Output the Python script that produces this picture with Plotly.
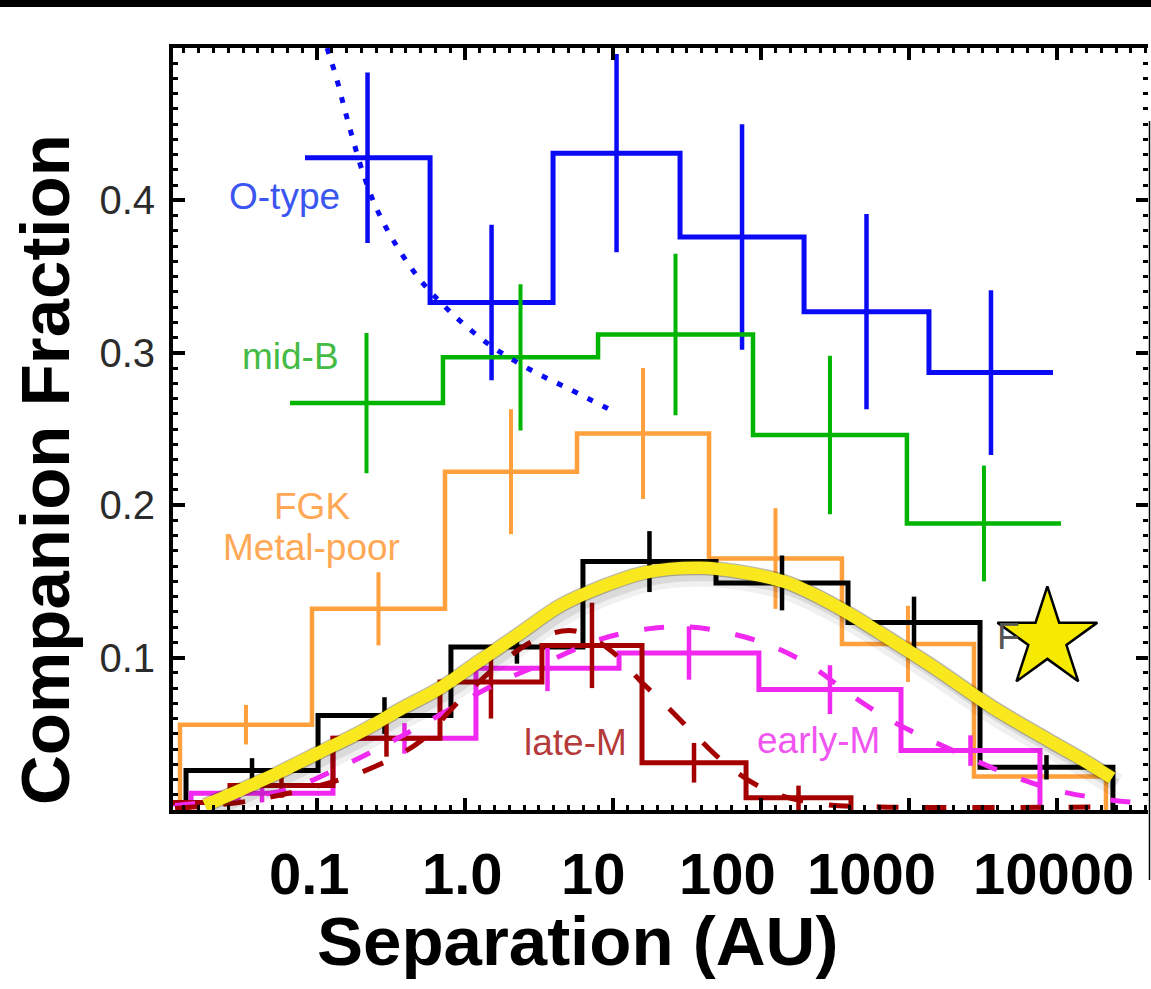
import numpy as np
import plotly.graph_objects as go

# ---------------- canvas / plot-area geometry ----------------
W, H = 1151, 989
ML, MR, MT, MB = 173, 3, 48, 179
PW, PH = W - ML - MR, H - MT - MB

X_LOG_RANGE = [-1.973, 4.615]      # log10(AU) at left / right frame
Y_RANGE = [0.0, 0.5]

# ---------------- data (separations stored as log10 AU) ----------------
# O-type stars (blue)
O_EDGES_LOG = [-1.081, -0.236, 0.595, 1.453, 2.291, 3.135, 3.973]
O_FRAC = [0.428, 0.333, 0.431, 0.376, 0.327, 0.287]
O_ERR = [0.056, 0.051, 0.065, 0.074, 0.064, 0.054]
O_FIT_LOG = [-0.932, -0.865, -0.811, -0.757, -0.696, -0.608, -0.486, -0.304,
             -0.101, 0.169, 0.439, 0.709, 1.014]
O_FIT_FRAC = [0.500, 0.479, 0.459, 0.440, 0.420, 0.397, 0.374, 0.348,
              0.327, 0.305, 0.289, 0.276, 0.261]

# mid-B stars (green)
B_EDGES_LOG = [-1.182, -0.149, 0.899, 1.946, 2.986, 4.027]
B_FRAC = [0.267, 0.297, 0.312, 0.246, 0.188]
B_ERR = [0.046, 0.048, 0.053, 0.052, 0.038]

# FGK metal-poor (orange)
FGKMP_EDGES_LOG = [-1.926, -1.034, -0.135, 0.757, 1.649, 2.547, 3.439, 4.331]
FGKMP_FRAC = [0.056, 0.132, 0.222, 0.247, 0.165, 0.109, 0.022]
FGKMP_ERR = [0.013, 0.024, 0.041, 0.043, 0.033, 0.025, 0.018]

# FGK solar-type (black)
FGK_EDGES_LOG = [-1.885, -0.993, -0.095, 0.797, 1.696, 2.588, 3.480, 4.378]
FGK_FRAC = [0.026, 0.062, 0.107, 0.163, 0.149, 0.123, 0.028]
FGK_ERR = [0.008, 0.012, 0.011, 0.020, 0.018, 0.017, 0.008]
FGK_FIT_LOG = [-1.757, -1.520, -1.250, -0.980, -0.709, -0.439, -0.169, 0.101,
               0.372, 0.642, 0.912, 1.223, 1.588, 1.872, 2.182, 2.520, 2.905,
               3.162, 3.554, 3.939, 4.155, 4.372]
FGK_FIT_FRAC = [0.003, 0.013, 0.025, 0.038, 0.051, 0.066, 0.080, 0.098,
                0.116, 0.134, 0.146, 0.156, 0.159, 0.156, 0.149, 0.133, 0.110,
                0.094, 0.068, 0.046, 0.034, 0.021]

# early-M (magenta)
EM_EDGES_LOG = [-2.818, -1.851, -0.892, 0.074, 1.041, 1.986, 2.946, 3.885]
EM_FRAC = [0.004, 0.011, 0.047, 0.093, 0.103, 0.079, 0.039]
EM_ERR = [0.0, 0.006, 0.010, 0.015, 0.0175, 0.016, 0.010]
EM_FIT_LOG = [-1.959, -1.588, -1.182, -0.845, -0.574, -0.304, -0.034, 0.236,
              0.574, 0.912, 1.250, 1.520, 1.791, 2.061, 2.331, 2.601, 2.872,
              3.142, 3.412, 3.682, 3.953, 4.223, 4.493, 4.628]
EM_FIT_FRAC = [0.003, 0.007, 0.014, 0.028, 0.041, 0.055, 0.070, 0.084,
               0.098, 0.112, 0.119, 0.120, 0.116, 0.108, 0.095, 0.076, 0.059,
               0.046, 0.034, 0.023, 0.014, 0.0085, 0.0052, 0.0046]

# late-M (dark red)
LM_EDGES_LOG = [-2.291, -1.588, -0.892, -0.169, 0.520, 1.196, 1.899, 2.608]
LM_FRAC = [0.005, 0.016, 0.047, 0.084, 0.108, 0.031, 0.008]
LM_ERR = [0.0, 0.008, 0.012, 0.024, 0.028, 0.013, 0.008]
LM_FIT_LOG = [-1.959, -1.453, -0.912, -0.574, -0.304, -0.034, 0.236, 0.507,
              0.743, 0.980, 1.182, 1.385, 1.588, 1.791, 2.061, 2.399, 2.804, 4.324]
LM_FIT_FRAC = [0.001, 0.006, 0.018, 0.030, 0.045, 0.072, 0.096, 0.113,
               0.1175, 0.105, 0.085, 0.066, 0.046, 0.028, 0.012, 0.004, 0.002, 0.002]

# decorative star marker (log10 AU, fraction)
STAR_LOG = [3.935]
STAR_FRAC = [0.1123]

X_TICK_TEXT = ["0.1", "1.0", "10", "100", "1000", "10000"]

# ---------------- styling ----------------
BLUE = "#0a0af5"
GREEN = "#00b400"
ORANGE = "#ffa03c"
BLACK = "#000000"
MAGENTA = "#f028f0"
DARKRED = "#a50000"
YELLOW = "#fae81e"
FONT = "Liberation Sans, Arial, Helvetica, sans-serif"


def px_x(px):
    return (px - ML) / PW


def px_y(py):
    return (MT + PH - py) / PH


def step_xy(edges_log, frac, closed):
    e = list(10.0 ** np.array(edges_log))
    if closed:
        x = [e[0]] + e[:-1] + [e[-1], e[-1]]
        y = [0.0] + list(frac) + [frac[-1], 0.0]
    else:
        x = e
        y = list(frac) + [frac[-1]]
    return x, y


def centers(edges_log):
    e = np.array(edges_log)
    return 10.0 ** ((e[:-1] + e[1:]) / 2.0)


fig = go.Figure()

series = [
    (FGKMP_EDGES_LOG, FGKMP_FRAC, FGKMP_ERR, ORANGE, 4.5, True),
    (O_EDGES_LOG, O_FRAC, O_ERR, BLUE, 5, False),
    (B_EDGES_LOG, B_FRAC, B_ERR, GREEN, 4.5, False),
    (FGK_EDGES_LOG, FGK_FRAC, FGK_ERR, BLACK, 5, True),
    (EM_EDGES_LOG, EM_FRAC, EM_ERR, MAGENTA, 5, True),
    (LM_EDGES_LOG, LM_FRAC, LM_ERR, DARKRED, 5, True),
]

for edges, frac, err, col, lw, closed in series:
    sx, sy = step_xy(edges, frac, closed)
    fig.add_trace(go.Scatter(x=sx, y=sy, mode="lines",
                             line=dict(color=col, width=lw, shape="hv"),
                             hoverinfo="skip"))
    fig.add_trace(go.Scatter(x=centers(edges), y=frac, mode="markers",
                             marker=dict(size=1, color=col),
                             error_y=dict(type="data", array=err, width=0,
                                          thickness=lw - 0.5, color=col),
                             hoverinfo="skip"))

# model curves
fig.add_trace(go.Scatter(x=10.0 ** np.array(O_FIT_LOG), y=O_FIT_FRAC, mode="lines",
                         line=dict(color=BLUE, width=5, dash="6px,11px",
                                   shape="spline"), hoverinfo="skip"))
fig.add_trace(go.Scatter(x=10.0 ** np.array(EM_FIT_LOG), y=EM_FIT_FRAC, mode="lines",
                         line=dict(color=MAGENTA, width=5, dash="20px,26px",
                                   shape="spline"), hoverinfo="skip"))
fig.add_trace(go.Scatter(x=10.0 ** np.array(LM_FIT_LOG), y=LM_FIT_FRAC, mode="lines",
                         line=dict(color=DARKRED, width=5, dash="22px,26px",
                                   shape="spline"), hoverinfo="skip"))

# shadow of the hand-drawn yellow curve (on a slightly shifted overlay)
fx = 10.0 ** np.array(FGK_FIT_LOG)
fig.add_trace(go.Scatter(x=fx, y=FGK_FIT_FRAC, mode="lines", xaxis="x2", yaxis="y2",
                         line=dict(color="rgba(0,0,0,0.06)", width=24, shape="spline"),
                         hoverinfo="skip"))
fig.add_trace(go.Scatter(x=fx, y=FGK_FIT_FRAC, mode="lines", xaxis="x2", yaxis="y2",
                         line=dict(color="rgba(0,0,0,0.09)", width=13, shape="spline"),
                         hoverinfo="skip"))
# the yellow highlight and the star
fig.add_trace(go.Scatter(x=fx, y=FGK_FIT_FRAC, mode="lines", xaxis="x3", yaxis="y3",
                         line=dict(color="rgba(70,60,0,0.35)", width=15, shape="spline"),
                         hoverinfo="skip"))
fig.add_trace(go.Scatter(x=fx, y=FGK_FIT_FRAC, mode="lines", xaxis="x3", yaxis="y3",
                         line=dict(color=YELLOW, width=12.5, shape="spline"),
                         hoverinfo="skip"))
fig.add_trace(go.Scatter(x=10.0 ** np.array(STAR_LOG), y=STAR_FRAC, mode="markers",
                         xaxis="x3", yaxis="y3",
                         marker=dict(symbol="star", size=75, color="#f6ea00",
                                     line=dict(color="black", width=2.5)),
                         hoverinfo="skip"))
# right-hand tick stubs
fig.add_trace(go.Scatter(x=[], y=[], xaxis="x", yaxis="y4", hoverinfo="skip"))

SHX = 4 / 148.0     # shadow shift, in decades
SHY = 7 / 1524.0    # shadow shift, in fraction units

common_x = dict(type="log", showgrid=False, zeroline=False)
fig.update_layout(
    width=W, height=H,
    margin=dict(l=ML, r=MR, t=MT, b=MB, pad=0),
    paper_bgcolor="white", plot_bgcolor="white",
    showlegend=False,
    xaxis=dict(type="log", range=X_LOG_RANGE, showgrid=False, zeroline=False,
               showline=True, linecolor="black", linewidth=4, mirror="ticks",
               ticks="inside", ticklen=12, tickwidth=3.5, tickcolor="black",
               tickvals=[0.1, 1, 10, 100, 1000, 10000], showticklabels=False,
               minor=dict(ticks="inside", ticklen=5, tickwidth=3, tickcolor="black",
                          dtick=0.1, tick0=0, showgrid=False)),
    yaxis=dict(range=Y_RANGE, showgrid=False, zeroline=False,
               showline=True, linecolor="black", linewidth=4, mirror=False,
               ticks="inside", ticklen=12, tickwidth=3.5, tickcolor="black",
               tickvals=[0.1, 0.2, 0.3, 0.4], ticktext=["0.1", "0.2", "0.3", "0.4"],
               tickfont=dict(family=FONT, size=40, color="#2b2b2b"),
               ticklabelstandoff=6,
               minor=dict(ticks="inside", ticklen=5, tickwidth=3, tickcolor="black",
                          dtick=0.01, tick0=0, showgrid=False)),
    xaxis2=dict(overlaying="x", anchor="y2", visible=False,
                range=[X_LOG_RANGE[0] - SHX, X_LOG_RANGE[1] - SHX], **common_x),
    yaxis2=dict(overlaying="y", anchor="x2", visible=False, showgrid=False,
                zeroline=False, range=[Y_RANGE[0] + SHY, Y_RANGE[1] + SHY]),
    xaxis3=dict(overlaying="x", anchor="y3", visible=False,
                range=X_LOG_RANGE, **common_x),
    yaxis3=dict(overlaying="y", anchor="x3", visible=False, showgrid=False,
                zeroline=False, range=Y_RANGE),
    yaxis4=dict(overlaying="y", anchor="x", side="right", range=Y_RANGE,
                showgrid=False, zeroline=False, showline=False,
                ticks="inside", ticklen=12, tickwidth=3.5, tickcolor="black",
                tickvals=[0.1, 0.2, 0.3, 0.4], showticklabels=False,
                minor=dict(ticks="inside", ticklen=5, tickwidth=3, tickcolor="black",
                           dtick=0.01, tick0=0, showgrid=False)),
)

# ---------------- text ----------------
ann = []
LABEL_SIZE = 37
labels = [
    ("O-type", 284, 197, "#3a55f0"),
    ("mid-B", 290, 357, "#44bb44"),
    ("FGK", 312, 506, "#ffa855"),
    ("Metal-poor", 311, 547, "#ffa855"),
    ("late-M", 575, 742, "#b53a3a"),
    ("early-M", 818, 740, "#f055f0"),
    ("F", 1008, 636, "#555555"),
]
for txt, cx, cy, col in labels:
    ann.append(dict(text=txt, x=px_x(cx), y=px_y(cy), xref="paper", yref="paper",
                    xanchor="center", yanchor="middle", showarrow=False,
                    font=dict(family=FONT, size=LABEL_SIZE, color=col)))

X_TICK_PX = [309, 462, 593, 727, 871, 1053]
for txt, cx in zip(X_TICK_TEXT, X_TICK_PX):
    ann.append(dict(text="<b>%s</b>" % txt, x=px_x(cx), y=px_y(873), xref="paper",
                    yref="paper", xanchor="center", yanchor="middle", showarrow=False,
                    font=dict(family=FONT, size=58, color="black")))

ann.append(dict(text="<b>Separation (AU)</b>", x=px_x(577), y=px_y(941), xref="paper",
                yref="paper", xanchor="center", yanchor="middle", showarrow=False,
                font=dict(family=FONT, size=69, color="black")))
ann.append(dict(text="<b>Companion Fraction</b>", x=px_x(45), y=px_y(470), xref="paper",
                yref="paper", xanchor="center", yanchor="middle", showarrow=False,
                textangle=-90, font=dict(family=FONT, size=69, color="black")))
fig.update_layout(annotations=ann)

# ---------------- framing shapes (cropping artefacts of the original) ----------------
fig.add_shape(type="rect", xref="paper", yref="paper", x0=px_x(0), x1=px_x(W),
              y0=px_y(7), y1=px_y(0), fillcolor="black", line=dict(width=0),
              layer="above")
fig.add_shape(type="line", xref="paper", yref="paper", x0=px_x(1149.5), x1=px_x(1149.5),
              y0=px_y(880), y1=px_y(121), line=dict(color="black", width=1.5),
              layer="above")

fig.write_html("out.html")
